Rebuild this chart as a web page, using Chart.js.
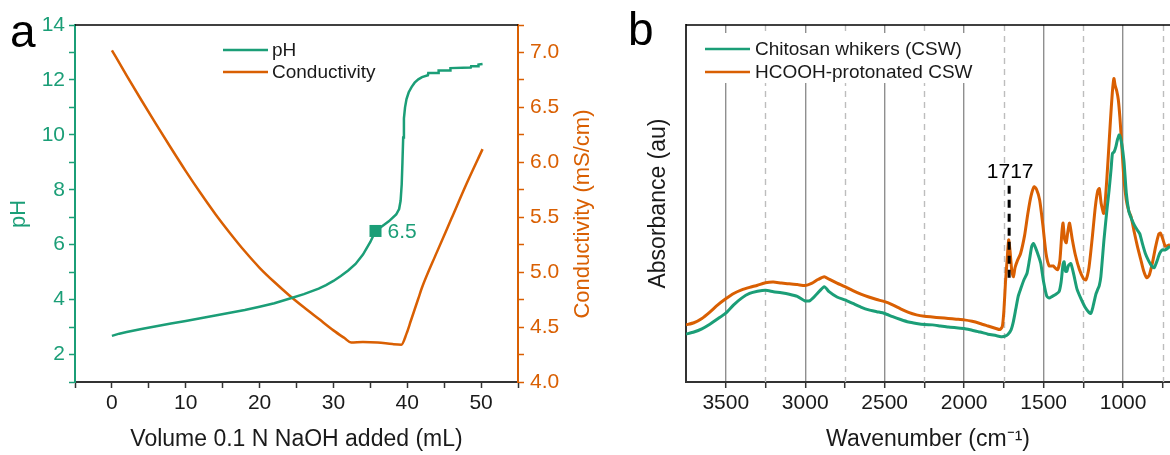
<!DOCTYPE html>
<html>
<head>
<meta charset="utf-8">
<script src="https://cdn.jsdelivr.net/npm/chart.js@4.4.1/dist/chart.umd.min.js"></script>
<style>
body { margin: 0; background: #fff; width: 1170px; height: 455px; overflow: hidden; position: relative; }
#wa { position: absolute; left: 0; top: 0; width: 620px; height: 455px; }
#wb { position: absolute; left: 620px; top: 0; width: 550px; height: 455px; }
</style>
</head>
<body>
<div id="wa"><canvas id="chartA"></canvas></div>
<div id="wb"><canvas id="chartB"></canvas></div>
<script>
// ---- panel a : titration ----
var volPH = [0,1,2,4,6,8,10,12,14,16,18,20,22,24,26,28,29,30,31,32,33,34,35,35.7,36.5,37.5,38.5,38.9,39.1,39.25,39.35,39.45,39.55,39.7,39.9,40.2,40.6,41,41.5,42,42.8,42.85,44.2,44.25,45.8,45.85,48.6,48.65,49.6,49.65,50.2];
var phVals = [2.68,2.76,2.82,2.93,3.03,3.13,3.22,3.32,3.42,3.52,3.62,3.74,3.87,4.03,4.2,4.4,4.53,4.68,4.86,5.06,5.3,5.64,6.1,6.5,6.65,6.85,7.1,7.3,7.6,8.2,9.0,9.9,10.6,11.0,11.3,11.55,11.75,11.9,12.02,12.1,12.17,12.25,12.25,12.34,12.34,12.43,12.45,12.5,12.5,12.56,12.58];
var volCond = [0,2,4,6,8,10,12,14,16,18,20,22,24,26,28,30,31.5,32.4,34,36,38,39.2,39.9,40.5,41,41.5,42,44,46,48,50.2];
var condVals = [7.02,6.79,6.565,6.345,6.13,5.92,5.72,5.53,5.355,5.19,5.04,4.91,4.79,4.68,4.575,4.47,4.4,4.36,4.365,4.36,4.345,4.34,4.44,4.56,4.66,4.76,4.86,5.18,5.49,5.8,6.12];
var markVol = [35.7];
var markPH = [6.5];
var volTicks = [0,10,20,30,40,50];
var phTicks = [2,4,6,8,10,12,14];
var condTicks = ['4.0','4.5','5.0','5.5','6.0','6.5','7.0'];

// ---- panel b : FTIR ----
var wnCSW = [3750,3700,3650,3600,3550,3500,3450,3400,3350,3300,3250,3200,3150,3100,3050,3000,2970,2930,2880,2850,2800,2750,2700,2650,2600,2550,2500,2450,2400,2350,2300,2250,2200,2150,2100,2050,2000,1950,1900,1850,1800,1768,1745,1725,1705,1690,1675,1660,1645,1625,1605,1590,1575,1565,1550,1530,1518,1500,1480,1465,1445,1425,1403,1390,1378,1371,1362,1354,1345,1329,1310,1290,1266,1240,1215,1203,1190,1172,1161,1150,1140,1120,1100,1088,1075,1067,1056,1045,1035,1024,1010,995,980,965,950,930,910,895,880,860,840,820,805,790,770,755,735,705];
var absCSW = [13.4,14.0,14.9,16.2,17.7,19.3,21.6,23.5,24.8,25.4,25.7,25.3,25.0,24.6,24.0,22.7,22.8,24.5,26.7,25.3,23.8,23.0,22.0,21.0,20.2,19.7,19.2,18.3,17.5,16.8,16.4,16.1,16.0,15.7,15.4,15.2,15.0,14.5,14.0,13.4,13.0,12.7,12.8,13.3,14.6,17,20.5,24,26,28.5,30.4,34,38,38.8,37.5,35,33.2,28,24,23.5,24,24.5,25.3,28,33,33.7,31,31,32.5,33.2,30,26,23.4,21,19.5,19.2,21,24.5,25.8,27,29.5,40,49,53.8,60,64,64.5,66,68,69.2,67,62,53,48,46,44,42.5,41.5,39,36,34,32.5,32,33.5,36,37,37,38];
var wnProt = [3750,3700,3650,3600,3550,3500,3450,3400,3350,3300,3250,3200,3150,3100,3050,3000,2960,2920,2880,2850,2800,2750,2700,2650,2600,2550,2500,2450,2400,2350,2300,2250,2200,2150,2100,2050,2000,1950,1900,1850,1800,1775,1760,1750,1740,1730,1720,1712,1700,1690,1680,1665,1645,1620,1600,1580,1560,1545,1525,1505,1485,1465,1440,1413,1398,1385,1378,1368,1358,1348,1337,1320,1300,1275,1250,1234,1215,1195,1175,1160,1150,1138,1122,1110,1095,1080,1068,1058,1050,1040,1030,1020,1008,995,980,965,950,930,910,890,870,851,835,815,795,775,765,750,735,720,705];
var absProt = [16.0,16.6,17.8,19.6,21.6,23.3,24.8,25.8,26.5,27.1,27.8,28.0,27.7,27.5,27.3,27.0,27.6,28.7,29.5,28.8,27.7,26.7,25.6,24.6,23.8,23.1,22.5,21.6,20.5,19.5,18.8,18.4,18.2,18.0,17.8,17.6,17.4,17.0,16.4,15.7,15.0,14.7,15.5,20,28,34,39.8,37,31,29.5,32,34,36,41,47,52,54.7,54,51,44,36,32.5,32.5,31.4,34,42,44.5,40,39,42,44.5,40,35.5,31.5,29,28.6,32,40,49,53.5,54.2,50,47.2,52,62,73,81,85,83,81.5,79,74,66,57,51,48,46.3,42,38,34.5,31,29.2,30,33.5,38,41.5,41.7,40,38,38.2,38.5];
var wnTicks = [1000,1500,2000,2500,3000,3500];
var wnMinor = [750,1250,1750,2250,2750,3250];
var peakWn = [1717];

var GREEN = '#1b9e77';
var ORANGE = '#d95f02';
var INK = '#1a1a1a';
var FONT = '"Liberation Sans", Arial, sans-serif';
Chart.defaults.font.family = FONT;
Chart.defaults.animation = false;

function pts(xs, ys) {
  var out = [];
  for (var i = 0; i < xs.length; i++) out.push({x: xs[i], y: ys[i]});
  return out;
}

function topBorder(chart) {
  var c = chart.ctx, a = chart.chartArea;
  c.save();
  c.strokeStyle = '#000';
  c.lineWidth = 1.5;
  c.beginPath(); c.moveTo(a.left, a.top); c.lineTo(a.right, a.top); c.stroke();
  c.restore();
}

function legendRows(c, rows, x1, x2, tx) {
  c.font = '19px ' + FONT;
  c.textAlign = 'left';
  c.textBaseline = 'middle';
  rows.forEach(function (r) {
    c.strokeStyle = r.color;
    c.lineWidth = 2.5;
    c.beginPath(); c.moveTo(x1, r.y); c.lineTo(x2, r.y); c.stroke();
    c.fillStyle = INK;
    c.fillText(r.label, tx, r.y + 1);
  });
}

var panelA = {
  id: 'panelA',
  afterDraw: function (chart) {
    var c = chart.ctx;
    topBorder(chart);
    c.save();
    legendRows(c, [{label: 'pH', color: GREEN, y: 50}, {label: 'Conductivity', color: ORANGE, y: 72}], 223, 268, 272);
    // value label next to the marker
    var mx = chart.scales.x.getPixelForValue(markVol[0]);
    var my = chart.scales.yPH.getPixelForValue(markPH[0]);
    c.font = '21px ' + FONT;
    c.fillStyle = GREEN;
    c.textAlign = 'left';
    c.textBaseline = 'middle';
    c.fillText(markPH[0].toFixed(1), mx + 12, my + 1);
    // axis titles, both read bottom to top
    c.save();
    c.translate(19, 214); c.rotate(-Math.PI / 2);
    c.textAlign = 'center';
    c.font = '22px ' + FONT;
    c.fillText('pH', 0, 0);
    c.restore();
    c.save();
    c.translate(583, 214); c.rotate(-Math.PI / 2);
    c.textAlign = 'center';
    c.font = '22px ' + FONT;
    c.fillStyle = ORANGE;
    c.fillText('Conductivity (mS/cm)', 0, 0);
    c.restore();
    // panel letter
    c.font = '46px ' + FONT;
    c.fillStyle = '#000';
    c.textBaseline = 'alphabetic';
    c.fillText('a', 10, 47);
    c.restore();
  }
};

new Chart(document.getElementById('chartA'), {
  type: 'line',
  data: {
    datasets: [
      { label: 'pH', data: pts(volPH, phVals), yAxisID: 'yPH', borderColor: GREEN, borderWidth: 2.5, pointRadius: 0, tension: 0, fill: false },
      { label: 'Conductivity', data: pts(volCond, condVals), yAxisID: 'yC', borderColor: ORANGE, borderWidth: 2.5, pointRadius: 0, cubicInterpolationMode: 'monotone', fill: false },
      { label: 'mark', data: pts(markVol, markPH), yAxisID: 'yPH', showLine: false, pointStyle: 'rect', pointRadius: 8.5, backgroundColor: GREEN, borderWidth: 0 }
    ]
  },
  options: {
    responsive: true,
    maintainAspectRatio: false,
    layout: { padding: { top: 25, left: 0, right: 0, bottom: 0 } },
    plugins: { legend: { display: false }, tooltip: { enabled: false } },
    scales: {
      x: {
        type: 'linear', min: -5, max: 55,
        ticks: { stepSize: 5, autoSkip: false, maxRotation: 0, padding: 3, color: INK, font: { size: 21 },
          callback: function (v) { return volTicks.indexOf(v) >= 0 ? String(v) : ''; } },
        grid: { drawOnChartArea: false, tickLength: 6, tickWidth: 1.5, tickColor: '#333' },
        border: { color: '#333', width: 2 },
        title: { display: true, text: 'Volume 0.1 N NaOH added (mL)', color: INK, font: { size: 23 }, padding: { top: 0, bottom: 2 } },
        afterFit: function (s) { s.height = 73; }
      },
      yPH: {
        type: 'linear', position: 'left', min: 1, max: 14,
        ticks: { stepSize: 1, autoSkip: false, padding: 4, color: GREEN, font: { size: 21 },
          callback: function (v) { return phTicks.indexOf(v) >= 0 ? String(v) : ''; } },
        grid: { drawOnChartArea: false, tickLength: 6, tickWidth: 1.5, tickColor: GREEN },
        border: { color: GREEN, width: 2 },
        afterFit: function (s) { s.width = 75; }
      },
      yC: {
        type: 'linear', position: 'right', min: 4, max: 7.25,
        ticks: { stepSize: 0.25, autoSkip: false, padding: 6, color: ORANGE, font: { size: 21 },
          callback: function (v) { var s = v.toFixed(2).slice(0, -1); return condTicks.indexOf(s) >= 0 && Math.abs(v * 2 - Math.round(v * 2)) < 1e-9 ? s : ''; } },
        grid: { drawOnChartArea: false, tickLength: 6, tickWidth: 1.5, tickColor: ORANGE },
        border: { color: ORANGE, width: 2 },
        afterFit: function (s) { s.width = 102; }
      }
    }
  },
  plugins: [panelA]
});

var panelB = {
  id: 'panelB',
  beforeDatasetsDraw: function (chart) {
    var c = chart.ctx, a = chart.chartArea, xs = chart.scales.x;
    c.save();
    c.strokeStyle = '#bdbdbd';
    c.lineWidth = 1.4;
    c.setLineDash([6, 5]);
    wnMinor.forEach(function (v) {
      var x = Math.round(xs.getPixelForValue(v)) + 0.5;
      c.beginPath(); c.moveTo(x, a.top); c.lineTo(x, a.bottom); c.stroke();
    });
    c.restore();
  },
  afterDraw: function (chart) {
    var c = chart.ctx, xs = chart.scales.x, ys = chart.scales.y;
    topBorder(chart);
    c.save();
    // legend box over the grid
    c.fillStyle = '#fff';
    c.fillRect(77, 33, 278, 50);
    legendRows(c, [{label: 'Chitosan whikers (CSW)', color: GREEN, y: 49}, {label: 'HCOOH-protonated CSW', color: ORANGE, y: 72}], 85, 130, 135);
    // 1717 marker
    var px = xs.getPixelForValue(peakWn[0]);
    c.strokeStyle = '#000';
    c.lineWidth = 3;
    c.setLineDash([8, 6]);
    c.beginPath(); c.moveTo(px, ys.getPixelForValue(55)); c.lineTo(px, ys.getPixelForValue(28)); c.stroke();
    c.setLineDash([]);
    c.fillStyle = '#000';
    c.font = '21px ' + FONT;
    c.textAlign = 'center';
    c.textBaseline = 'alphabetic';
    c.fillText(String(peakWn[0]), px + 1, 178);
    // panel letter
    c.textAlign = 'left';
    c.font = '46px ' + FONT;
    c.fillText('b', 8, 45);
    c.restore();
  }
};

new Chart(document.getElementById('chartB'), {
  type: 'line',
  data: {
    datasets: [
      { label: 'Chitosan whikers (CSW)', data: pts(wnCSW, absCSW), borderColor: GREEN, borderWidth: 3, pointRadius: 0, tension: 0.2, fill: false },
      { label: 'HCOOH-protonated CSW', data: pts(wnProt, absProt), borderColor: ORANGE, borderWidth: 3, pointRadius: 0, tension: 0.2, fill: false }
    ]
  },
  options: {
    responsive: true,
    maintainAspectRatio: false,
    layout: { padding: { top: 25, left: 0, right: 0, bottom: 0 } },
    plugins: { legend: { display: false }, tooltip: { enabled: false } },
    scales: {
      x: {
        type: 'linear', reverse: true, min: 705, max: 3750,
        afterBuildTicks: function (s) {
          s.ticks = wnTicks.concat(wnMinor).sort(function (p, q) { return p - q; }).map(function (v) { return {value: v}; });
        },
        ticks: { autoSkip: false, maxRotation: 0, padding: 3, color: INK, font: { size: 21 },
          callback: function (v) { return wnTicks.indexOf(v) >= 0 ? String(v) : ''; } },
        grid: {
          color: function (ctx) { return ctx.tick && wnTicks.indexOf(ctx.tick.value) >= 0 ? '#8f8f8f' : 'rgba(0,0,0,0)'; },
          lineWidth: 1.4, tickLength: 6, tickWidth: 1.5, tickColor: '#333'
        },
        border: { color: '#333', width: 2 },
        title: { display: true, text: 'Wavenumber (cm\u207B\u00B9)', color: INK, font: { size: 23 }, padding: { top: 0, bottom: 2 } },
        afterFit: function (s) { s.height = 73; }
      },
      y: {
        type: 'linear', min: 0, max: 100,
        ticks: { display: false },
        grid: { drawOnChartArea: false, drawTicks: false },
        border: { color: '#333', width: 2 },
        title: { display: true, text: 'Absorbance (au)', color: INK, font: { size: 23 }, padding: { top: 25, bottom: 0 } },
        afterFit: function (s) { s.width = 66; }
      }
    }
  },
  plugins: [panelB]
});
</script>
</body>
</html>
